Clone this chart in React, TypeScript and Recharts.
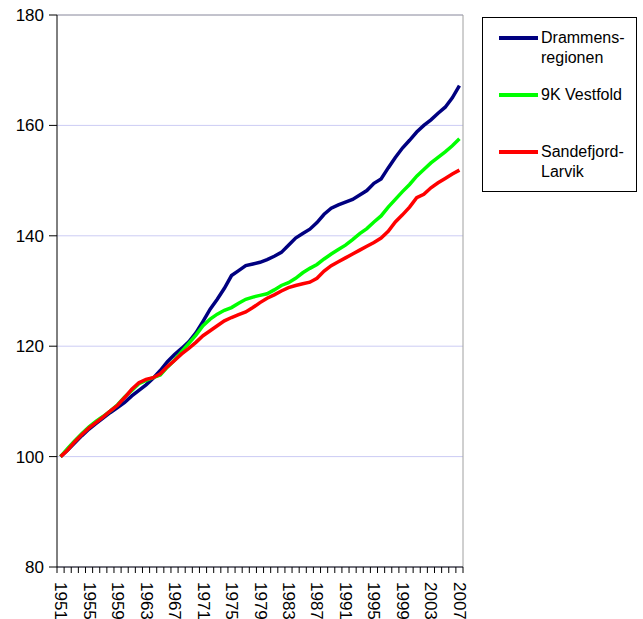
import React from 'react'
import {
  LineChart,
  Line,
  XAxis,
  YAxis,
  CartesianGrid,
  ReferenceLine
} from 'recharts'

const years = [
  1951, 1952, 1953, 1954, 1955, 1956, 1957, 1958, 1959, 1960,
  1961, 1962, 1963, 1964, 1965, 1966, 1967, 1968, 1969, 1970,
  1971, 1972, 1973, 1974, 1975, 1976, 1977, 1978, 1979, 1980,
  1981, 1982, 1983, 1984, 1985, 1986, 1987, 1988, 1989, 1990,
  1991, 1992, 1993, 1994, 1995, 1996, 1997, 1998, 1999, 2000,
  2001, 2002, 2003, 2004, 2005, 2006, 2007
]

const drammensregionen = [
  100, 101.2, 102.5, 103.8, 105, 106, 107, 108, 108.9, 109.8,
  111, 112, 113, 114.2, 115.6, 117.2, 118.5, 119.6, 120.8, 122.4,
  124.5, 126.7, 128.5, 130.5, 132.8, 133.7, 134.6, 134.9, 135.2, 135.7,
  136.3, 137, 138.3, 139.6, 140.4, 141.2, 142.4, 143.9, 145, 145.6,
  146.1, 146.6, 147.4, 148.2, 149.5, 150.3, 152.3, 154.2, 155.9, 157.3,
  158.8, 160, 161, 162.2, 163.3, 165, 167.2
]

const vestfold9K = [
  100, 101.5, 102.9, 104.2, 105.4, 106.4, 107.3, 108.3, 109.4, 110.8,
  112, 113.2, 113.8, 114.3, 114.8, 116.2, 117.5, 119, 120.5, 122,
  123.7, 124.9, 125.8, 126.5, 127, 127.8, 128.5, 128.9, 129.2, 129.5,
  130.2, 131, 131.5, 132.3, 133.3, 134.1, 134.8, 135.8, 136.7, 137.5,
  138.3, 139.3, 140.4, 141.3, 142.5, 143.6, 145.2, 146.6, 148, 149.3,
  150.8, 152, 153.2, 154.2, 155.2, 156.3, 157.6
]

const sandefjordLarvik = [
  100, 101.2, 102.7, 104, 105.2, 106.2, 107.2, 108.3, 109.3, 110.7,
  112.2, 113.4, 114, 114.3, 115, 116.3, 117.4, 118.6, 119.6, 120.7,
  121.9, 122.8, 123.7, 124.6, 125.2, 125.7, 126.2, 127, 127.9, 128.7,
  129.3, 130, 130.6, 131, 131.3, 131.6, 132.3, 133.6, 134.6, 135.3,
  136, 136.7, 137.4, 138.1, 138.8, 139.6, 140.8, 142.5, 143.8, 145.2,
  146.9, 147.5, 148.7, 149.6, 150.4, 151.2, 151.9
]

const yTicks = [80, 100, 120, 140, 160, 180]

const series = [
  { key: 'drammen', name: 'Drammens-regionen', color: '#000080', values: drammensregionen },
  { key: 'vestfold', name: '9K Vestfold', color: '#00ff00', values: vestfold9K },
  { key: 'sandefjord', name: 'Sandefjord-Larvik', color: '#ff0000', values: sandefjordLarvik }
]

const data = years.map((year, i) => ({
  year,
  drammen: drammensregionen[i],
  vestfold: vestfold9K[i],
  sandefjord: sandefjordLarvik[i]
}))

const W = 643
const H = 619
const margin = { top: 15, right: 180, bottom: 0, left: 0 }
const yAxisWidth = 57
const xAxisHeight = 52
const plotWidth = W - margin.left - margin.right - yAxisWidth
const halfStep = plotWidth / years.length / 2
const font = '"Liberation Sans", Arial, sans-serif'

// tick marks sit between the years, labels every 4th year
function YearTick(props: any) {
  const { x, y, payload } = props
  const year = payload.value
  const axisY = y - 15
  const showLabel = (year - years[0]) % 4 === 0
  const last = year === years[years.length - 1]
  return (
    <g>
      <line x1={x - halfStep} x2={x - halfStep} y1={axisY} y2={axisY + 6} stroke="#000" />
      {last && <line x1={x + halfStep} x2={x + halfStep} y1={axisY} y2={axisY + 6} stroke="#000" />}
      {showLabel && (
        <text
          transform={`translate(${x},${y}) rotate(90)`}
          textAnchor="start"
          dominantBaseline="central"
          fontSize={17}
          fontFamily={font}
          fill="#000"
        >
          {year}
        </text>
      )}
    </g>
  )
}

function LegendBox() {
  const rowTops = [10, 67, 124]
  return (
    <div
      style={{
        position: 'absolute',
        left: 482,
        top: 17,
        width: 155,
        height: 175,
        boxSizing: 'border-box',
        border: '1px solid #000',
        background: '#fff',
        fontFamily: font,
        fontSize: 16,
        lineHeight: '20px',
        color: '#000'
      }}
    >
      {series.map((s, i) => (
        <div
          key={s.key}
          style={{ position: 'absolute', left: 16, top: rowTops[i], display: 'flex', alignItems: 'flex-start' }}
        >
          <div style={{ width: 39, height: 4, marginTop: 8, background: s.color }} />
          <div style={{ marginLeft: 3, width: 90 }}>{s.name}</div>
        </div>
      ))}
    </div>
  )
}

export default function App() {
  return (
    <div style={{ position: 'absolute', left: 0, top: 0, width: W, height: H, background: '#fff' }}>
      <LineChart width={W} height={H} data={data} margin={margin}>
        <CartesianGrid vertical={false} stroke="#ccccf4" />
        <ReferenceLine y={180} stroke="#a0a0a0" />
        <ReferenceLine x={years[years.length - 1] + 0.5} stroke="#a0a0a0" />
        <XAxis
          dataKey="year"
          type="number"
          domain={[years[0] - 0.5, years[years.length - 1] + 0.5]}
          ticks={years}
          interval={0}
          height={xAxisHeight}
          axisLine={{ stroke: '#000' }}
          tickLine={false}
          tickSize={6}
          tickMargin={9}
          tick={<YearTick />}
        />
        <YAxis
          type="number"
          domain={[80, 180]}
          ticks={yTicks}
          interval={0}
          width={yAxisWidth}
          axisLine={{ stroke: '#000' }}
          tickLine={{ stroke: '#000' }}
          tickSize={8}
          tickMargin={5}
          tick={{ fill: '#000', fontSize: 17, fontFamily: font }}
        />
        {series.map((s) => (
          <Line
            key={s.key}
            type="linear"
            dataKey={s.key}
            name={s.name}
            stroke={s.color}
            strokeWidth={3.5}
            dot={false}
            isAnimationActive={false}
          />
        ))}
      </LineChart>
      <LegendBox />
    </div>
  )
}
